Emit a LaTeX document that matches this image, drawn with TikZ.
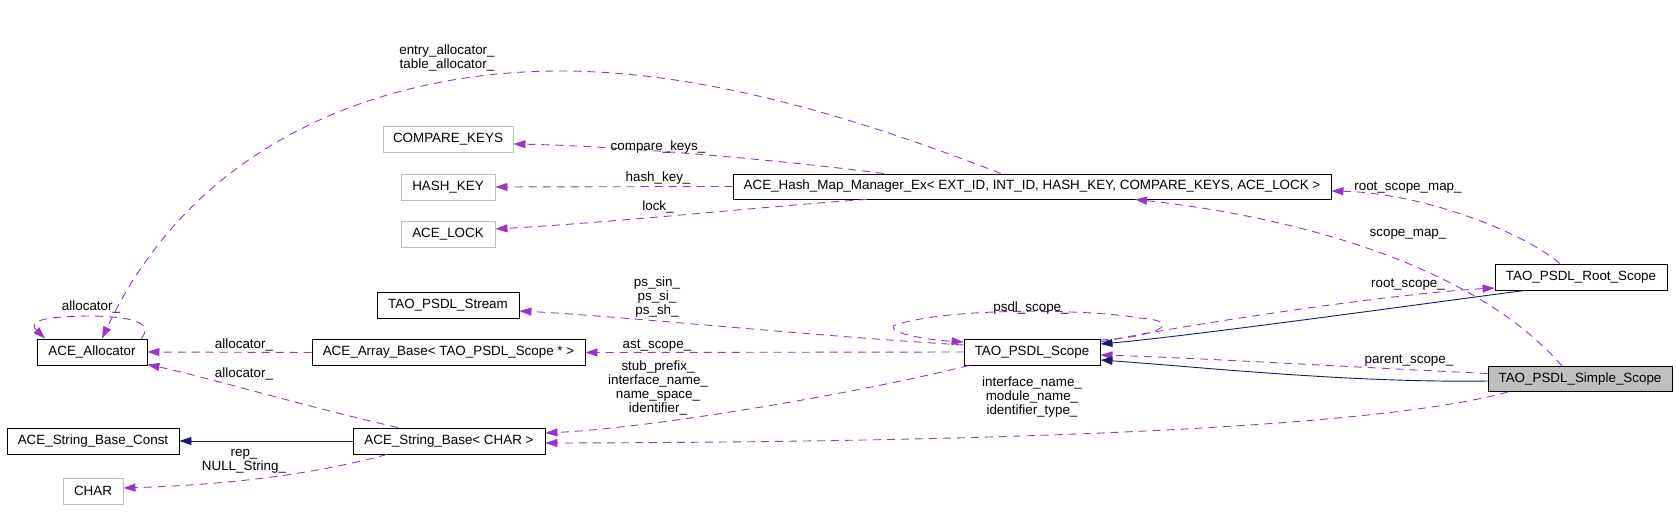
\documentclass[tikz,border=0pt]{standalone}
\usepackage{fontspec}
\setmainfont{Liberation Sans}
\usetikzlibrary{arrows.meta}
\definecolor{edgepurple}{HTML}{9A32CD}
\definecolor{edgenavy}{HTML}{191970}
\definecolor{boxgray}{HTML}{BFBFBF}
\begin{document}
\begin{tikzpicture}[x=1pt,y=-1pt,
  every node/.style={font=\fontsize{13.4}{14.3}\selectfont, inner sep=0pt},
  cls/.style={draw=black, line width=0.9pt, minimum height=26pt},
  ext/.style={draw=boxgray, line width=0.9pt, minimum height=26pt},
  cur/.style={cls, fill=boxgray},
  member/.style={draw=edgepurple, line width=0.9pt, dash pattern=on 8pt off 6pt, -{Triangle[length=12pt,width=8pt]}},
  inherit/.style={draw=edgenavy, line width=0.9pt, -{Triangle[length=12pt,width=8pt]}},
  lbl/.style={align=center}
]
\useasboundingbox (0,0) rectangle (1677,519);

% nodes
\node[ext, minimum width=130pt] (CK) at (448,139) {COMPARE\_KEYS};
\node[ext, minimum width=94pt] (HK) at (448,187) {HASH\_KEY};
\node[ext, minimum width=94pt] (LK) at (448,234) {ACE\_LOCK};
\node[cls, minimum width=598pt, minimum height=25pt] (HM) at (1032,186.5) {ACE\_Hash\_Map\_Manager\_Ex< EXT\_ID, INT\_ID, HASH\_KEY, COMPARE\_KEYS, ACE\_LOCK >};
\node[cls, minimum width=142pt] (STR) at (448,305) {TAO\_PSDL\_Stream};
\node[cls, minimum width=110pt] (ALLOC) at (92,352) {ACE\_Allocator};
\node[cls, minimum width=273pt] (ARR) at (448.5,352.5) {ACE\_Array\_Base< TAO\_PSDL\_Scope * >};
\node[cls, minimum width=136pt] (SCOPE) at (1032,352) {TAO\_PSDL\_Scope};
\node[cls, minimum width=172pt] (ROOT) at (1581,277) {TAO\_PSDL\_Root\_Scope};
\node[cur, minimum width=184pt, minimum height=25pt] (SIMPLE) at (1580,379) {TAO\_PSDL\_Simple\_Scope};
\node[cls, minimum width=172pt] (SBC) at (93,441) {ACE\_String\_Base\_Const};
\node[cls, minimum width=192pt] (SB) at (449,441) {ACE\_String\_Base< CHAR >};
\node[ext, minimum width=60pt] (CH) at (93,491) {CHAR};

% Hash map members
\draw[member] ([xshift=-31pt]HM.north) .. controls (850,115) and (700,71) .. (560,71) .. controls (400,71) and (200,130) .. ([xshift=10pt]ALLOC.north);
\node[lbl] at (447,58) {entry\_allocator\_\\table\_allocator\_};
\draw[member] ([xshift=-148pt]HM.north) .. controls (780,160) and (620,146) .. ([yshift=-5pt]CK.east);
\node[lbl] at (658,147) {compare\_keys\_};
\draw[member] (HM.west) -- (HK.east);
\node[lbl] at (658,178) {hash\_key\_};
\draw[member] ([xshift=-165pt]HM.south) .. controls (780,205) and (620,222) .. ([yshift=5pt]LK.east);
\node[lbl] at (658,207) {lock\_};

% allocator self loop
\draw[member] ([xshift=-6pt]ALLOC.north east) .. controls (152,325) and (140,317) .. (92,316) .. controls (40,316) and (28,322) .. ([xshift=-47pt]ALLOC.north);
\node[lbl] at (91,307) {allocator\_};

% array base / string base
\draw[member] (ARR.west) -- (ALLOC.east);
\node[lbl] at (244,345) {allocator\_};
\draw[member] ([xshift=-51pt]SB.north) .. controls (300,405) and (210,378) .. ([yshift=1pt]ALLOC.south east);
\node[lbl] at (244,374) {allocator\_};
\draw[inherit] (SB.west) -- (SBC.east);
\draw[member] ([xshift=-62pt]SB.south) .. controls (330,470) and (250,484) .. ([yshift=3pt]CH.east);
\node[lbl] at (244,461) {rep\_\\NULL\_String\_};

% root / simple to hash map
\draw[member] ([xshift=-21pt]ROOT.north) .. controls (1520,230) and (1420,193) .. ([yshift=-4.5pt]HM.east);
\node[lbl] at (1408,188) {root\_scope\_map\_};
\draw[member] ([xshift=-18pt]SIMPLE.north) .. controls (1470,260) and (1280,215) .. ([xshift=103pt]HM.south);
\node[lbl] at (1408,234) {scope\_map\_};

% scope relations
\draw[member] ([yshift=10pt]SCOPE.east) .. controls (1200,322) and (1400,293) .. ([yshift=-11pt]ROOT.west);
\node[lbl] at (1408,285) {root\_scope\_};
\draw[inherit] ([xshift=-56pt]ROOT.south) .. controls (1450,300) and (1200,335) .. ([yshift=8pt]SCOPE.east);
\draw[member] ([yshift=5.5pt]SIMPLE.west) .. controls (1350,367) and (1200,358) .. ([yshift=-3pt]SCOPE.east);
\node[lbl] at (1409,361) {parent\_scope\_};
\draw[inherit] ([yshift=-2pt]SIMPLE.west) .. controls (1350,383) and (1200,367) .. ([yshift=-8pt]SCOPE.east);

\draw[member] ([yshift=7pt]SCOPE.west) .. controls (800,335) and (620,316) .. ([yshift=-6pt]STR.east);
\node[lbl] at (657,297) {ps\_sin\_\\ps\_si\_\\ps\_sh\_};
\draw[member] ([yshift=12pt]SCOPE.east) .. controls (1150,338) and (1190,322) .. (1140,318) .. controls (1080,308) and (940,308) .. (893,326) .. controls (890,334) and (930,340) .. ([yshift=10pt]SCOPE.west);
\node[lbl] at (1031,308) {psdl\_scope\_};
\draw[member] (SCOPE.west) -- (ARR.east);
\node[lbl] at (657,346) {ast\_scope\_};
\draw[member] ([xshift=-63pt]SCOPE.south) .. controls (850,395) and (650,428) .. ([yshift=8pt]SB.east);
\node[lbl] at (658,388) {stub\_prefix\_\\interface\_name\_\\name\_space\_\\identifier\_};
\draw[member] ([xshift=-72pt]SIMPLE.south) .. controls (1400,422) and (1100,442) .. ([yshift=-2pt]SB.east);
\node[lbl] at (1032,397) {interface\_name\_\\module\_name\_\\identifier\_type\_};
\end{tikzpicture}
\end{document}
